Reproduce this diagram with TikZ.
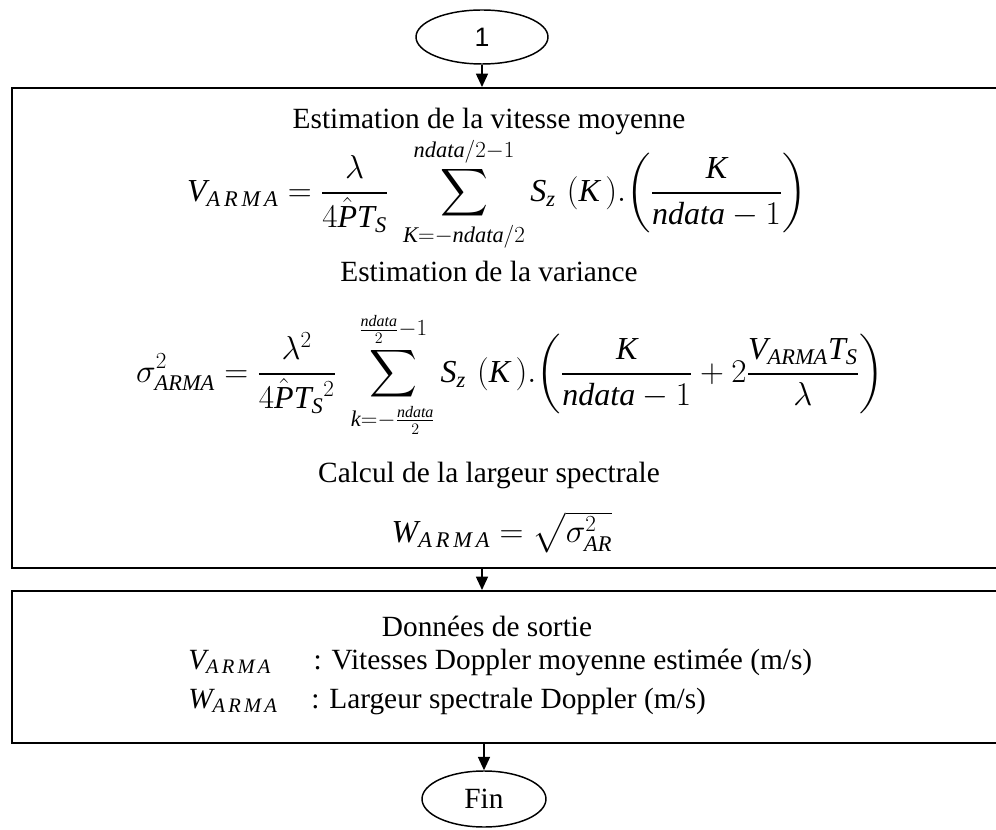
\documentclass[tikz,border=0pt]{standalone}
\usepackage{amsmath}
\usepackage{fontspec}
\setmainfont{Liberation Serif}
\newfontfamily\onefont{Liberation Sans}
\usetikzlibrary{shapes.geometric,arrows.meta}
\newcommand{\tmi}[1]{\mathit{#1}}
\newcommand{\armaS}{\tmi{A\,R\,M\,A}}
\tikzset{
  flowbox/.style={draw, line width=1.5pt, rectangle, inner sep=0pt},
  term/.style={draw, line width=1.1pt, ellipse, inner sep=0pt},
  arr/.style={line width=1.1pt, -{Triangle[width=9pt,length=10pt]}},
  txt/.style={inner sep=0pt, font=\fontsize{22}{26}\selectfont},
  frm/.style={inner sep=0pt, font=\fontsize{24}{28}\selectfont},
}
\begin{document}
\begin{tikzpicture}[x=0.75pt, y=-0.75pt]
\useasboundingbox (0,0) rectangle (996,830);
\clip (0,0) rectangle (996,830);
% terminals
\node[term, minimum width=132*0.75pt, minimum height=54*0.75pt,
      font=\onefont\fontsize{20}{24}\selectfont] (one) at (482,37) {1};
\node[term, minimum width=124*0.75pt, minimum height=56*0.75pt, txt] (fin) at (484,799) {Fin};
% boxes
\node[flowbox, minimum width=990*0.75pt, minimum height=480*0.75pt] (box1) at (507,328) {};
\node[flowbox, minimum width=990*0.75pt, minimum height=152*0.75pt] (box2) at (507,667) {};
% box 1 content
\node[txt] (t1) at (489,121) {Estimation de la vitesse moyenne};
\node[frm] (f1) at (497,194) {$\displaystyle \tmi{V}_{\armaS}=\frac{\lambda}{4\hat{\tmi{P}}\tmi{T}_{\tmi{S}}}\;\sum_{\tmi{K}=-\tmi{ndata}/2}^{\tmi{ndata}/2-1} \tmi{S}_{\tmi{z}}\,\left(\tmi{K}\,\right)\!.\!\left(\frac{\tmi{K}}{\tmi{ndata}-1}\right)$};
\node[txt] (t2) at (489,271) {Estimation de la variance};
\node[frm] (f2) at (510,375) {$\displaystyle \sigma^{2}_{\tmi{ARMA}}=\frac{\lambda^{2}}{4\hat{\tmi{P}}{\tmi{T}_{\tmi{S}}}^{2}}\;\sum_{\tmi{k}=-\frac{\tmi{ndata}}{2}}^{\frac{\tmi{ndata}}{2}-1} \tmi{S}_{\tmi{z}}\,\left(\tmi{K}\,\right)\!.\!\left(\frac{\tmi{K}}{\tmi{ndata}-1}+2\frac{\tmi{V}_{\tmi{ARMA}}\tmi{T}_{\tmi{S}}}{\lambda}\right)$};
\node[txt] (t3) at (489,475) {Calcul de la largeur spectrale};
\node[frm] (f3) at (502,532) {$\tmi{W}_{\armaS}=\sqrt{\sigma^{2}_{\tmi{AR}}}$};
% box 2 content
\node[txt] (t4) at (487,626) {Données de sortie};
\node[txt, anchor=west] (t5) at (188,662) {$\tmi{V}_{\armaS}$\hspace{1.45em}: Vitesses Doppler moyenne estimée (m/s)};
\node[txt, anchor=west] (t6) at (188,701) {$\tmi{W}_{\armaS}$\hspace{1.15em}: Largeur spectrale Doppler (m/s)};
% connectors
\draw[arr] (one.south) -- (one.south |- box1.north);
\draw[arr] (one.south |- box1.south) -- (one.south |- box2.north);
\draw[arr] (fin.north |- box2.south) -- (fin.north);
\end{tikzpicture}
\end{document}
